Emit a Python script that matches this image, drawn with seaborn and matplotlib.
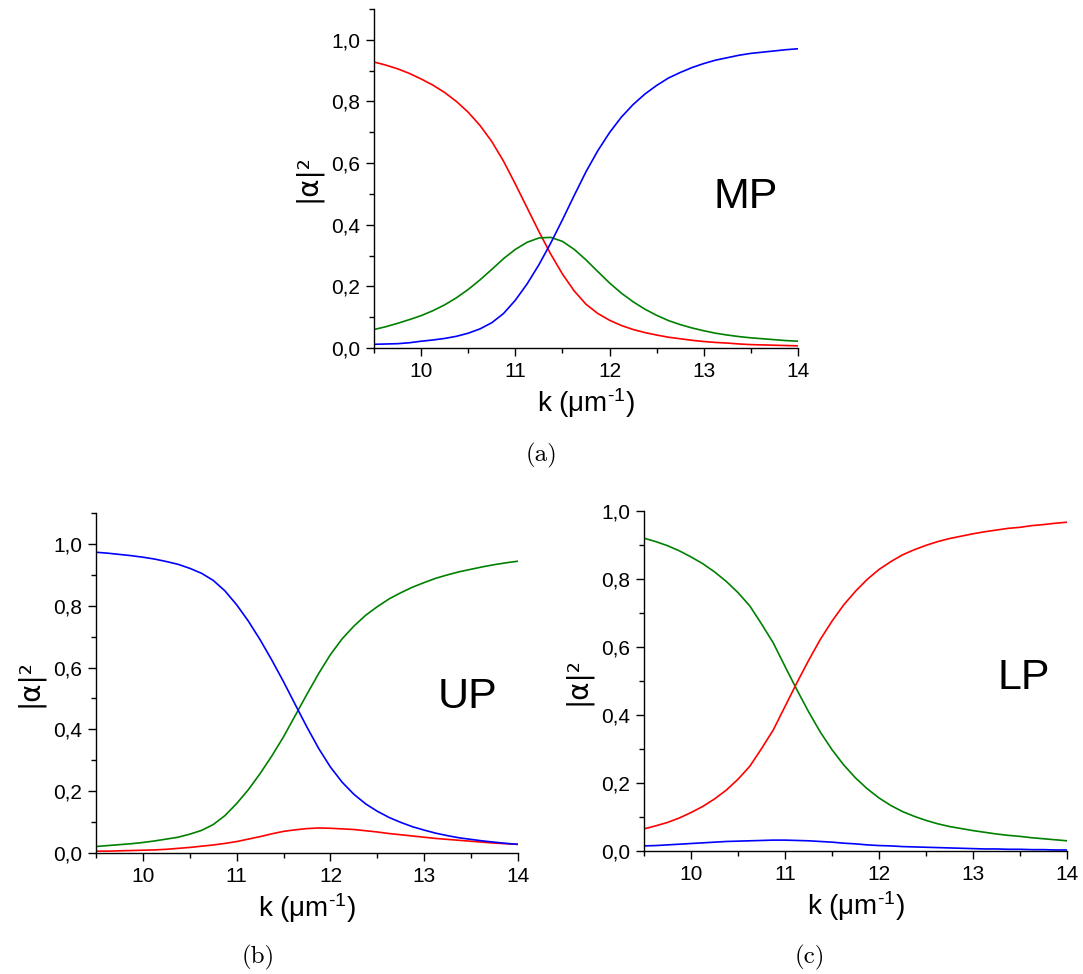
import numpy as np
import pandas as pd
import matplotlib
matplotlib.use("Agg")
import matplotlib.pyplot as plt
from matplotlib.ticker import MultipleLocator, FuncFormatter
import seaborn as sns

# ---- data ----
k = [9.5, 9.625, 9.75, 9.875, 10.0, 10.125, 10.25, 10.375, 10.5, 10.625,
     10.75, 10.875, 11.0, 11.125, 11.25, 11.375, 11.5, 11.625, 11.75, 11.875,
     12.0, 12.125, 12.25, 12.375, 12.5, 12.625, 12.75, 12.875, 13.0, 13.125,
     13.25, 13.375, 13.5, 13.625, 13.75, 13.875, 14.0]

# (a) MP
mp_red = [0.928, 0.918, 0.906, 0.891, 0.873, 0.853, 0.829, 0.800, 0.765, 0.722,
          0.670, 0.606, 0.532, 0.455, 0.378, 0.305, 0.240, 0.185, 0.142, 0.112,
          0.090, 0.073, 0.060, 0.050, 0.042, 0.035, 0.030, 0.025, 0.021, 0.018,
          0.016, 0.013, 0.011, 0.010, 0.009, 0.008, 0.007]
mp_green = [0.060, 0.069, 0.080, 0.092, 0.105, 0.121, 0.140, 0.163, 0.190, 0.221,
            0.255, 0.290, 0.320, 0.343, 0.357, 0.359, 0.346, 0.320, 0.286, 0.248,
            0.211, 0.178, 0.150, 0.126, 0.106, 0.089, 0.076, 0.065, 0.056, 0.048,
            0.042, 0.037, 0.033, 0.030, 0.027, 0.024, 0.022]
mp_blue = [0.012, 0.013, 0.014, 0.017, 0.022, 0.026, 0.031, 0.038, 0.048, 0.062,
           0.082, 0.112, 0.155, 0.208, 0.270, 0.340, 0.416, 0.495, 0.572, 0.640,
           0.699, 0.749, 0.790, 0.824, 0.852, 0.876, 0.894, 0.910, 0.923, 0.934,
           0.942, 0.950, 0.956, 0.960, 0.964, 0.968, 0.971]

# (b) UP
up_blue = [0.973, 0.970, 0.966, 0.962, 0.957, 0.951, 0.943, 0.934, 0.921, 0.905,
           0.882, 0.848, 0.803, 0.750, 0.690, 0.624, 0.554, 0.480, 0.407, 0.338,
           0.278, 0.229, 0.190, 0.159, 0.135, 0.115, 0.099, 0.085, 0.074, 0.064,
           0.056, 0.049, 0.044, 0.039, 0.035, 0.031, 0.028]
up_red = [0.006, 0.006, 0.007, 0.008, 0.009, 0.010, 0.012, 0.015, 0.018, 0.022,
          0.026, 0.031, 0.037, 0.045, 0.053, 0.062, 0.070, 0.075, 0.079, 0.081,
          0.080, 0.078, 0.076, 0.072, 0.068, 0.063, 0.059, 0.055, 0.051, 0.047,
          0.044, 0.041, 0.038, 0.035, 0.032, 0.030, 0.028]
up_green = [0.021, 0.024, 0.027, 0.030, 0.034, 0.039, 0.045, 0.051, 0.061, 0.073,
            0.092, 0.121, 0.160, 0.205, 0.257, 0.314, 0.376, 0.445, 0.514, 0.581,
            0.642, 0.693, 0.734, 0.769, 0.797, 0.822, 0.842, 0.860, 0.875, 0.889,
            0.900, 0.910, 0.918, 0.926, 0.933, 0.939, 0.944]

# (c) LP
lp_green = [0.920, 0.910, 0.898, 0.883, 0.865, 0.845, 0.821, 0.793, 0.760, 0.721,
            0.668, 0.612, 0.543, 0.475, 0.410, 0.350, 0.298, 0.253, 0.215, 0.183,
            0.156, 0.134, 0.116, 0.102, 0.090, 0.080, 0.072, 0.066, 0.060, 0.055,
            0.050, 0.046, 0.043, 0.039, 0.036, 0.033, 0.030]
lp_blue = [0.015, 0.016, 0.018, 0.020, 0.022, 0.024, 0.026, 0.028, 0.029, 0.030,
           0.031, 0.032, 0.032, 0.031, 0.030, 0.028, 0.026, 0.023, 0.021, 0.018,
           0.016, 0.015, 0.013, 0.012, 0.011, 0.010, 0.009, 0.008, 0.007, 0.006,
           0.006, 0.005, 0.005, 0.004, 0.004, 0.003, 0.003]
lp_red = [0.065, 0.074, 0.084, 0.097, 0.113, 0.131, 0.153, 0.179, 0.211, 0.249,
          0.301, 0.356, 0.425, 0.494, 0.560, 0.622, 0.676, 0.724, 0.764, 0.799,
          0.828, 0.851, 0.871, 0.886, 0.899, 0.910, 0.919, 0.926, 0.933, 0.939,
          0.944, 0.949, 0.952, 0.957, 0.960, 0.964, 0.967]

panel_names = ["MP", "UP", "LP"]
captions = ["(a)", "(b)", "(c)"]
y_tops = [1.1, 1.1, 1.0]

# ---- styling ----
sns.set_style("ticks")
plt.rcParams["font.family"] = ["Liberation Sans", "DejaVu Sans"]
plt.rcParams["mathtext.fontset"] = "custom"
plt.rcParams["mathtext.rm"] = "Liberation Sans"
plt.rcParams["mathtext.it"] = "Liberation Sans:italic"
for key in ["text.color", "axes.labelcolor", "xtick.color", "ytick.color", "axes.edgecolor"]:
    plt.rcParams[key] = "black"

RED, GREEN, BLUE = "#ff0000", "#008000", "#0000ff"

fig = plt.figure(figsize=(10.83, 9.74), dpi=100)
W, H = 1083, 974

def add_axes(left, right, top, bottom):
    return fig.add_axes([left / W, 1 - bottom / H, (right - left) / W, (bottom - top) / H])

ax_a = add_axes(374, 798, 9, 348)
ax_b = add_axes(96, 518, 513, 853)
ax_c = add_axes(644, 1067, 511, 851)

panels = [
    (ax_a, [(mp_red, RED), (mp_green, GREEN), (mp_blue, BLUE)]),
    (ax_b, [(up_red, RED), (up_green, GREEN), (up_blue, BLUE)]),
    (ax_c, [(lp_blue, BLUE), (lp_green, GREEN), (lp_red, RED)]),
]

text_pos = [(13.44, 0.49), (13.46, 0.505), (13.54, 0.51)]
caption_px = [(541, 455), (258, 957), (810, 957)]

fmt = FuncFormatter(lambda v, p: f"{v:.1f}".replace(".", ","))

for i, (ax, series) in enumerate(panels):
    for vals, col in series:
        sns.lineplot(x=k, y=vals, color=col, linewidth=1.2, ax=ax, legend=False)
    ax.set_xlim(9.5, 14)
    ax.set_ylim(0, y_tops[i])
    ax.xaxis.set_major_locator(MultipleLocator(1))
    ax.xaxis.set_minor_locator(MultipleLocator(0.5))
    ax.yaxis.set_major_locator(MultipleLocator(0.2))
    ax.yaxis.set_minor_locator(MultipleLocator(0.1))
    ax.yaxis.set_major_formatter(fmt)
    ax.tick_params(which="major", direction="out", length=6, width=1.0,
                   labelsize=15, colors="black", pad=4)
    ax.tick_params(which="minor", direction="out", length=3.5, width=1.0)
    for s in ["top", "right"]:
        ax.spines[s].set_visible(False)
    for s in ["left", "bottom"]:
        ax.spines[s].set_linewidth(1.0)
        ax.spines[s].set_color("black")
    ax.set_xlabel(r"k (μm$^{\text{-1}}$)", fontsize=20, labelpad=4)
    ax.set_ylabel("|α|²", fontsize=20, labelpad=7, family=["DejaVu Sans"])
    tx, ty = text_pos[i]
    ax.text(tx, ty, panel_names[i], fontsize=31, ha="center", va="center")
    cx, cy = caption_px[i]
    fig.text(cx / W, 1 - cy / H, captions[i], fontsize=18, family="cmr10",
             ha="center", va="center")

fig.savefig("out.png", dpi=100)
